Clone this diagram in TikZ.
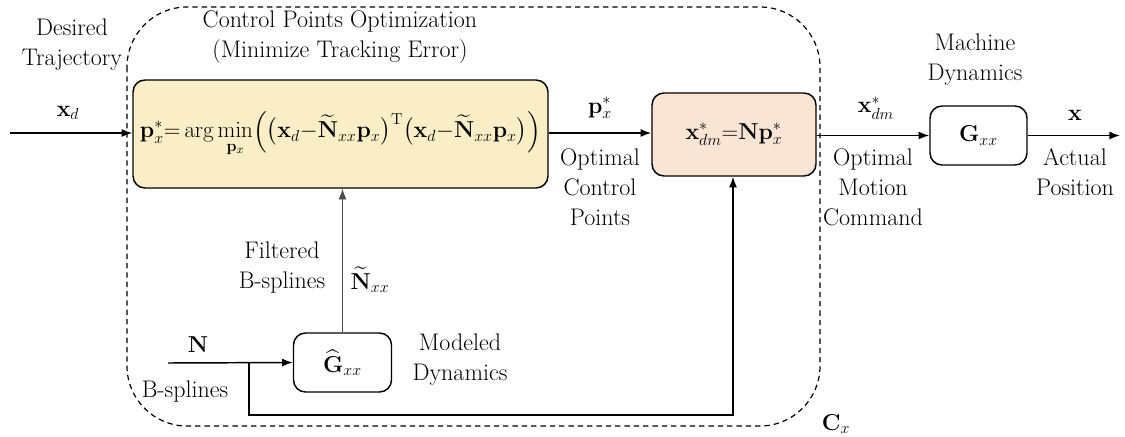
\documentclass[tikz,border=0pt]{standalone}
\usepackage{amsmath}
\usetikzlibrary{arrows.meta}
\definecolor{boxyellow}{RGB}{250,238,198}
\definecolor{boxpink}{RGB}{250,228,212}
\tikzset{
  blk/.style={draw, line width=1.1pt, rounded corners=9pt, inner sep=0pt},
  lbl/.style={align=center, inner sep=0pt},
  sig/.style={-{Latex[length=8pt,width=6pt]}, line width=1.1pt},
}
\begin{document}
\begin{tikzpicture}[x=0.75pt,y=-0.75pt,font=\fontsize{18}{22.5}\selectfont]
\useasboundingbox (0,0) rectangle (1125,436);
% dashed enclosure
\draw[dashed, line width=0.9pt, dash pattern=on 4pt off 3pt, rounded corners=45pt] (127,7) rectangle (820,426);
% blocks
\node[blk, fill=boxyellow, minimum width=415*0.75pt, minimum height=108*0.75pt] (opt) at (340.5,134) {$\displaystyle\mathbf{p}_x^{*}{=}\arg\min_{\mathbf{p}_x}\Bigl(\bigl(\mathbf{x}_d{-}\widetilde{\mathbf{N}}_{xx}\mathbf{p}_x\bigr)^{\mathrm{T}}\bigl(\mathbf{x}_d{-}\widetilde{\mathbf{N}}_{xx}\mathbf{p}_x\bigr)\Bigr)$};
\node[blk, fill=boxpink, minimum width=164*0.75pt, minimum height=83*0.75pt] (cmd) at (734,134.5) {$\mathbf{x}_{dm}^{*}{=}\mathbf{N}\mathbf{p}_x^{*}$};
\node[blk, minimum width=97*0.75pt, minimum height=59*0.75pt] (G) at (978.5,135.5) {$\mathbf{G}_{xx}$};
\node[blk, minimum width=98*0.75pt, minimum height=59*0.75pt] (Gh) at (342.5,362.5) {$\widehat{\mathbf{G}}_{xx}$};
% coordinates
\coordinate (in) at (10,133);
\coordinate (out) at (1120,135.5);
\coordinate (nin) at (168,363);
\coordinate (br) at (249,363);
\coordinate (corner1) at (249,415);
\coordinate (corner2) at (733,415);
% connectors
\draw[sig] (in) -- (opt.west |- in);
\draw[sig] (opt.east |- in) -- (cmd.west |- in);
\draw[sig] (cmd.east |- G) -- (G.west);
\draw[sig] (G.east) -- (out);
\draw[sig] (nin) -- (Gh.west);
\draw[sig, line width=0.6pt, draw=black!70] (Gh.north) -- (opt.south -| Gh.north);
\draw[sig] (br) -- (corner1) -- (corner2) -- (cmd.south -| corner2);
% labels
\node[lbl] (t1) at (72,45) {Desired\\Trajectory};
\node[lbl] (t2) at (340,37) {Control Points Optimization\\(Minimize Tracking Error)};
\node[lbl] (t3) at (68,113) {$\mathbf{x}_d$};
\node[lbl] (t4) at (600,108) {$\mathbf{p}_x^{*}$};
\node[lbl] (t5) at (600,187) {Optimal\\Control\\Points};
\node[lbl] (t6) at (876,108) {$\mathbf{x}_{dm}^{*}$};
\node[lbl] (t7) at (873,187) {Optimal\\Motion\\Command};
\node[lbl] (t8) at (975,60) {Machine\\Dynamics};
\node[lbl] (t9) at (1075,115) {$\mathbf{x}$};
\node[lbl] (t10) at (1075,172) {Actual\\Position};
\node[lbl] (t11) at (282,268) {Filtered\\B-splines};
\node[lbl] (t12) at (370,280) {$\widetilde{\mathbf{N}}_{xx}$};
\node[lbl] (t13) at (198,345) {$\mathbf{N}$};
\node[lbl] (t14) at (185,392) {B-splines};
\node[lbl] (t15) at (460,360) {Modeled\\Dynamics};
\node[lbl] (t16) at (836,424) {$\mathbf{C}_x$};
\end{tikzpicture}
\end{document}
